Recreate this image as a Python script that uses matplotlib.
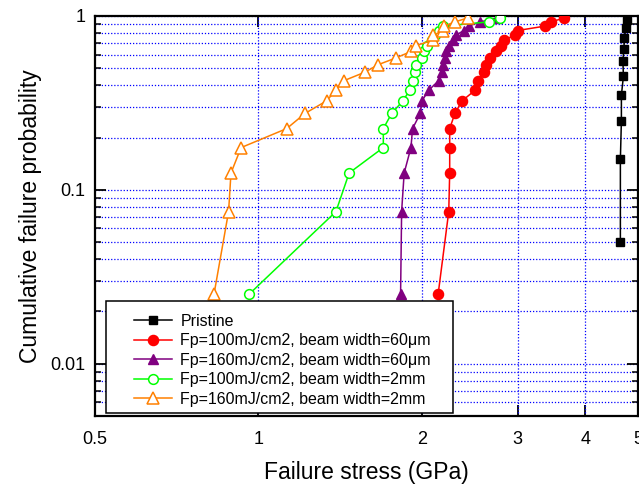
import matplotlib
matplotlib.use("Agg")
import matplotlib.pyplot as plt
from matplotlib.patches import Rectangle
from matplotlib.ticker import FixedLocator, NullFormatter, FixedFormatter, LogLocator

plt.rcParams['font.family'] = ['Liberation Sans', 'DejaVu Sans']

# ---- data ----
prob10 = [0.05, 0.15, 0.25, 0.35, 0.45, 0.55, 0.65, 0.75, 0.85, 0.95]
prob20 = [0.025, 0.075, 0.125, 0.175, 0.225, 0.275, 0.325, 0.375, 0.425, 0.475,
          0.525, 0.575, 0.625, 0.675, 0.725, 0.775, 0.825, 0.875, 0.925, 0.975]

stress_pristine = [4.64, 4.64, 4.66, 4.66, 4.70, 4.69, 4.71, 4.72, 4.75, 4.78]
stress_100_60um = [2.142, 2.241, 2.25, 2.25, 2.25, 2.30, 2.371, 2.508, 2.533, 2.606,
                   2.626, 2.665, 2.742, 2.80, 2.83, 2.962, 3.0, 3.373, 3.459, 3.66]
stress_160_60um = [1.827, 1.835, 1.855, 1.909, 1.922, 1.986, 2.0, 2.06, 2.148, 2.174,
                   2.188, 2.203, 2.219, 2.241, 2.279, 2.311, 2.388, 2.439, 2.563, 2.749]
stress_100_2mm = [0.96, 1.389, 1.469, 1.698, 1.698, 1.759, 1.845, 1.90, 1.925, 1.941,
                  1.951, 1.997, 2.016, 2.045, 2.083, 2.112, 2.148, 2.185, 2.662, 2.788]
stress_160_2mm = [0.828, 0.881, 0.89, 0.929, 1.127, 1.218, 1.335, 1.389, 1.438, 1.57,
                  1.662, 1.794, 1.909, 1.947, 2.095, 2.10, 2.185, 2.20, 2.30, 2.43]

labels = ["Pristine",
          "Fp=100mJ/cm2, beam width=60\u03bcm",
          "Fp=160mJ/cm2, beam width=60\u03bcm",
          "Fp=100mJ/cm2, beam width=2mm",
          "Fp=160mJ/cm2, beam width=2mm"]

xticks = [0.5, 1, 2, 3, 4, 5]
xticklabels = ["0.5", "1", "2", "3", "4", "5"]
yticks = [0.01, 0.1, 1]
yticklabels = ["0.01", "0.1", "1"]

# ---- figure ----
W, H = 639, 488
fig = plt.figure(figsize=(W / 100, H / 100), dpi=100)
ax = fig.add_axes([95 / W, 1 - 416 / H, 543 / W, 400 / H])
ax.set_xscale('log')
ax.set_yscale('log')
ax.set_xlim(0.5, 5)
ax.set_ylim(0.005, 1)

lw = 1.1
ax.plot(stress_pristine, prob10, color='black', marker='s', ms=6, lw=lw, label=labels[0], zorder=3)
ax.plot(stress_100_60um, prob20, color='#FF0000', marker='o', ms=7.3, lw=lw, label=labels[1], zorder=3)
ax.plot(stress_160_60um, prob20, color='#800080', marker='^', ms=7.8, lw=lw, label=labels[2], zorder=3)
ax.plot(stress_100_2mm, prob20, color='#00FF00', marker='o', ms=7, mfc='white', mew=1.1, lw=lw,
        label=labels[3], zorder=3)
ax.plot(stress_160_2mm, prob20, color='#FF8000', marker='^', ms=8, mfc='white', mew=1.1, lw=lw,
        label=labels[4], zorder=3)

# ticks
ax.xaxis.set_major_locator(FixedLocator(xticks))
ax.xaxis.set_major_formatter(FixedFormatter(xticklabels))
ax.xaxis.set_minor_locator(FixedLocator([]))
ax.yaxis.set_major_locator(FixedLocator(yticks))
ax.yaxis.set_major_formatter(FixedFormatter(yticklabels))
ax.yaxis.set_minor_locator(LogLocator(base=10, subs=range(2, 10)))
ax.yaxis.set_minor_formatter(NullFormatter())

ax.tick_params(which='major', direction='in', length=8, width=1.3, top=True, right=True,
               labelsize=13)
ax.tick_params(axis='x', which='major', pad=11)
ax.tick_params(axis='y', which='major', pad=7)
ax.tick_params(which='minor', direction='in', length=4.5, width=1.1, top=True, right=True)

for s in ax.spines.values():
    s.set_linewidth(1.6)

# grid
gstyle = dict(color='#0000FF', linestyle=(0, (1, 1.5)), linewidth=0.9)
for xv in [1, 2, 3, 4]:
    ax.axvline(xv, zorder=1, **gstyle)
ax.yaxis.grid(True, which='both', **gstyle)
ax.set_axisbelow(True)

ax.set_xlabel("Failure stress (GPa)", fontsize=16.5, labelpad=9)
ax.set_ylabel("Cumulative failure probability", fontsize=16.5, labelpad=6)

# legend frame
frame = Rectangle((106 / W, 1 - 413 / H), (453 - 106) / W, (413 - 301) / H,
                  transform=fig.transFigure, facecolor='white', edgecolor='black',
                  linewidth=1.1, zorder=4.5, clip_on=False)
ax.add_patch(frame)
leg = ax.legend(loc='upper left', bbox_to_anchor=(134 / W, 1 - 314 / H),
                bbox_transform=fig.transFigure, frameon=False, fontsize=11.5,
                handlelength=2.35, handletextpad=0.55, labelspacing=0.28,
                borderpad=0, borderaxespad=0, numpoints=1)
leg.set_zorder(6)

fig.savefig("out.png", dpi=100)
